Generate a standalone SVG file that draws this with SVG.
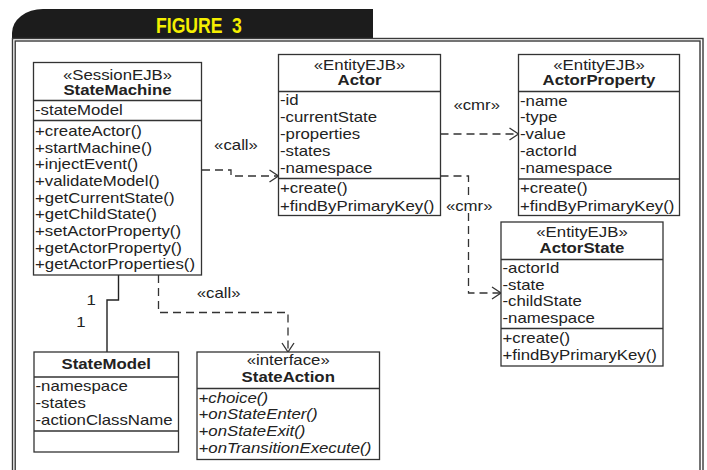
<svg xmlns="http://www.w3.org/2000/svg" width="707" height="470" viewBox="0 0 707 470">
  <style>
    .box { fill: #ffffff; stroke: #333333; stroke-width: 1.3; }
    .div { stroke: #333333; stroke-width: 1.3; }
    .frame { fill: none; stroke: #3a3a3a; stroke-width: 1.4; }
    text { font-family: "Liberation Sans", Arial, sans-serif; font-size: 14px; fill: #222222; }
    .c { text-anchor: middle; }
    .b { font-weight: bold; }
    .i { font-style: italic; }
    .title { font-family: "Liberation Sans", Arial, sans-serif; font-size: 22px; font-weight: bold; fill: #f5ef00; }
    .dash { fill: none; stroke: #333333; stroke-width: 1.3; stroke-dasharray: 8 5; }
    .solid { fill: none; stroke: #222222; stroke-width: 1.4; }
  </style>
  <defs>
    <marker id="open" markerUnits="userSpaceOnUse" markerWidth="14" markerHeight="16" refX="10" refY="7" orient="auto" overflow="visible">
      <path d="M1,1 L10,7 L1,13" fill="none" stroke="#333333" stroke-width="1.3"/>
    </marker>
  </defs>

  <rect width="707" height="470" fill="#ffffff"/>

  <!-- banner and double frame -->
  <g id="banner">
    <path d="M12,38.5 V33 A31,24 0 0 1 43,9 H373 V38.5 Z" fill="#1c1c1c"/>
    <text class="title" transform="translate(156,33) scale(0.8,1)">FIGURE<tspan x="95">3</tspan></text>
  </g>
  <rect class="frame" x="12.5" y="38.5" width="690.5" height="480"/>
  <rect class="frame" x="15.2" y="41" width="684.8" height="480"/>

  <!-- connectors -->
  <g id="connectors">
    <path class="dash" d="M202,170 H231 V176 H278.5" marker-end="url(#open)"/>
    <path class="dash" d="M440.5,134 H518.5" marker-end="url(#open)"/>
    <path class="dash" d="M440.5,176 H468.5 V293 H501" marker-end="url(#open)"/>
    <path class="dash" d="M158.5,275 V312.5 H288 V352" marker-end="url(#open)"/>
    <path class="solid" d="M118.5,275 V300 H107 V352"/>
    <rect x="446" y="199" width="46" height="14" fill="#ffffff"/>
    <text class="c" transform="translate(236,150) scale(1.2,1)">«call»</text>
    <text class="c" transform="translate(476.7,110) scale(1.2,1)">«cmr»</text>
    <text class="c" transform="translate(469.2,210.5) scale(1.2,1)">«cmr»</text>
    <text class="c" transform="translate(218.7,298) scale(1.2,1)">«call»</text>
    <text class="c" transform="translate(91.2,305) scale(1.2,1)">1</text>
    <text class="c" transform="translate(81,327) scale(1.2,1)">1</text>
  </g>

  <!-- StateMachine -->
  <g id="StateMachine">
    <rect class="box" x="33.5" y="62.5" width="168" height="212.5"/>
    <line class="div" x1="33.5" y1="100.5" x2="201.5" y2="100.5"/>
    <line class="div" x1="33.5" y1="120.5" x2="201.5" y2="120.5"/>
    <text class="c" transform="translate(117.5,80) scale(1.2,1)">«SessionEJB»</text>
    <text class="c b" transform="translate(117.5,94.5) scale(1.2,1)">StateMachine</text>
    <text transform="translate(35,114.5) scale(1.2,1)">-stateModel</text>
    <text transform="translate(35,136) scale(1.2,1)">+createActor()</text>
    <text transform="translate(35,152.7) scale(1.2,1)">+startMachine()</text>
    <text transform="translate(35,169.3) scale(1.2,1)">+injectEvent()</text>
    <text transform="translate(35,186) scale(1.2,1)">+validateModel()</text>
    <text transform="translate(35,202.6) scale(1.2,1)">+getCurrentState()</text>
    <text transform="translate(35,219.3) scale(1.2,1)">+getChildState()</text>
    <text transform="translate(35,236) scale(1.2,1)">+setActorProperty()</text>
    <text transform="translate(35,252.6) scale(1.2,1)">+getActorProperty()</text>
    <text transform="translate(35,269.3) scale(1.2,1)">+getActorProperties()</text>
  </g>

  <!-- Actor -->
  <g id="Actor">
    <rect class="box" x="278.5" y="54.5" width="162" height="161"/>
    <line class="div" x1="278.5" y1="91.5" x2="440.5" y2="91.5"/>
    <line class="div" x1="278.5" y1="178.5" x2="440.5" y2="178.5"/>
    <text class="c" transform="translate(359.5,70) scale(1.2,1)">«EntityEJB»</text>
    <text class="c b" transform="translate(359.5,84.5) scale(1.2,1)">Actor</text>
    <text transform="translate(280,105) scale(1.2,1)">-id</text>
    <text transform="translate(280,122) scale(1.2,1)">-currentState</text>
    <text transform="translate(280,139) scale(1.2,1)">-properties</text>
    <text transform="translate(280,156) scale(1.2,1)">-states</text>
    <text transform="translate(280,172.7) scale(1.2,1)">-namespace</text>
    <text transform="translate(280,193.3) scale(1.2,1)">+create()</text>
    <text transform="translate(280,210.5) scale(1.2,1)">+findByPrimaryKey()</text>
  </g>

  <!-- ActorProperty -->
  <g id="ActorProperty">
    <rect class="box" x="518.5" y="54.5" width="161" height="161"/>
    <line class="div" x1="518.5" y1="91.5" x2="679.5" y2="91.5"/>
    <line class="div" x1="518.5" y1="179" x2="679.5" y2="179"/>
    <text class="c" transform="translate(599,70) scale(1.2,1)">«EntityEJB»</text>
    <text class="c b" transform="translate(599,84.5) scale(1.2,1)">ActorProperty</text>
    <text transform="translate(520,105.5) scale(1.2,1)">-name</text>
    <text transform="translate(520,122) scale(1.2,1)">-type</text>
    <text transform="translate(520,139) scale(1.2,1)">-value</text>
    <text transform="translate(520,156) scale(1.2,1)">-actorId</text>
    <text transform="translate(520,172.7) scale(1.2,1)">-namespace</text>
    <text transform="translate(520,193.3) scale(1.2,1)">+create()</text>
    <text transform="translate(520,210.5) scale(1.2,1)">+findByPrimaryKey()</text>
  </g>

  <!-- ActorState -->
  <g id="ActorState">
    <rect class="box" x="501" y="222" width="162" height="144"/>
    <line class="div" x1="501" y1="259.5" x2="663" y2="259.5"/>
    <line class="div" x1="501" y1="328.5" x2="663" y2="328.5"/>
    <text class="c" transform="translate(582,237) scale(1.2,1)">«EntityEJB»</text>
    <text class="c b" transform="translate(582,253) scale(1.2,1)">ActorState</text>
    <text transform="translate(502.5,273) scale(1.2,1)">-actorId</text>
    <text transform="translate(502.5,290) scale(1.2,1)">-state</text>
    <text transform="translate(502.5,306) scale(1.2,1)">-childState</text>
    <text transform="translate(502.5,322.5) scale(1.2,1)">-namespace</text>
    <text transform="translate(502.5,343) scale(1.2,1)">+create()</text>
    <text transform="translate(502.5,360) scale(1.2,1)">+findByPrimaryKey()</text>
  </g>

  <!-- StateModel -->
  <g id="StateModel">
    <rect class="box" x="34" y="352" width="144.5" height="100"/>
    <line class="div" x1="34" y1="377" x2="178.5" y2="377"/>
    <line class="div" x1="34" y1="431" x2="178.5" y2="431"/>
    <text class="c b" transform="translate(106.25,369) scale(1.2,1)">StateModel</text>
    <text transform="translate(35.5,391) scale(1.2,1)">-namespace</text>
    <text transform="translate(35.5,408) scale(1.2,1)">-states</text>
    <text transform="translate(35.5,424.5) scale(1.2,1)">-actionClassName</text>
  </g>

  <!-- StateAction -->
  <g id="StateAction">
    <rect class="box" x="197" y="352" width="182.5" height="107.5"/>
    <line class="div" x1="197" y1="388.5" x2="379.5" y2="388.5"/>
    <text class="c" transform="translate(288.25,365) scale(1.2,1)">«interface»</text>
    <text class="c b" transform="translate(288.25,382) scale(1.2,1)">StateAction</text>
    <text class="i" transform="translate(198.5,402.5) scale(1.2,1)">+choice()</text>
    <text class="i" transform="translate(198.5,419.3) scale(1.2,1)">+onStateEnter()</text>
    <text class="i" transform="translate(198.5,436) scale(1.2,1)">+onStateExit()</text>
    <text class="i" transform="translate(198.5,453) scale(1.2,1)">+onTransitionExecute()</text>
  </g>
</svg>
